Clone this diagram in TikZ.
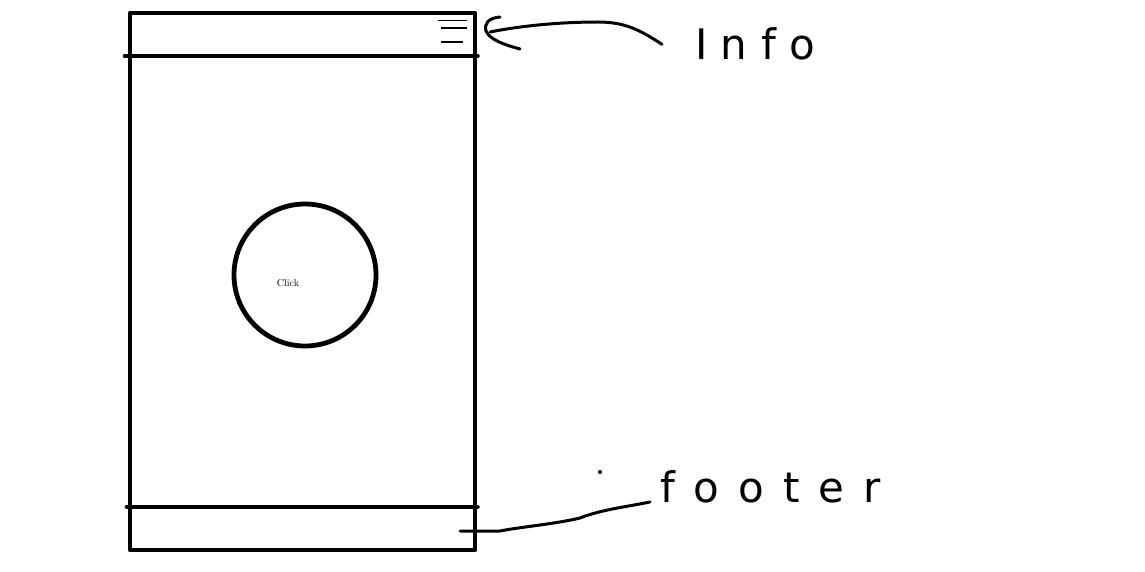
\documentclass[tikz,border=0pt]{standalone}
\usepackage{fontspec}
\usepackage{tikz}
\newfontfamily\infohand[LetterSpace=32]{DejaVu Sans}
\newfontfamily\foothand[LetterSpace=45]{DejaVu Sans}

\begin{document}
\begin{tikzpicture}[x=1pt, y=-1pt, line cap=round, line join=round,
  frame/.style={line width=4.8pt},
  hand/.style={line width=3pt},
  handlabel/.style={inner ysep=0pt, anchor=base west, font=\fontsize{42}{42}\selectfont}]
  \useasboundingbox (0,0) rectangle (1145,572);
  % phone outline, header and footer bars
  \node[draw, frame, minimum width=345pt, minimum height=537pt, inner sep=0pt] (phone) at (302.5,281.5) {};
  \coordinate (headl) at (125,56); \draw[frame] (headl) -- (headl -| phone.east);
  \coordinate (footl) at (127,507); \draw[frame] (footl) -- (footl -| phone.east);
  \foreach \y/\a/\b in {20.5/438/467, 28/441/467, 42/441/463}
    \draw[line width=1.1pt, line cap=butt] (\a,\y) -- (\b,\y);
  % button
  \node[draw, circle, frame, minimum size=142pt, inner sep=0pt] (button) at (305,275) {};
  \node[font=\fontsize{10}{10}\selectfont, inner sep=0pt] (click) at (288,283) {Click};
  % labels
  \node[handlabel, inner xsep=33pt] (info) at (662,60) {\infohand Info};
  \node[handlabel, inner xsep=10pt] (footer) at (650,502) {\foothand footer};
  \coordinate (infotip) at (490,32);
  \coordinate (footend) at (460,531);
  \draw[hand] (info.west) .. controls (640,30) and (625,22) .. (598,22) .. controls (565,22) and (525,25) .. (infotip);
  \draw[hand] (500,17) .. controls (488,18) and (484,24) .. (486,31) .. controls (490,40) and (505,45) .. (520,49);
  \draw[hand] (footer.base west) .. controls (625,507) and (600,510) .. (580,518) .. controls (555,524) and (520,527) .. (500,531) -- (footend);
  \fill (600,472) circle (2pt);
\end{tikzpicture}
\end{document}
